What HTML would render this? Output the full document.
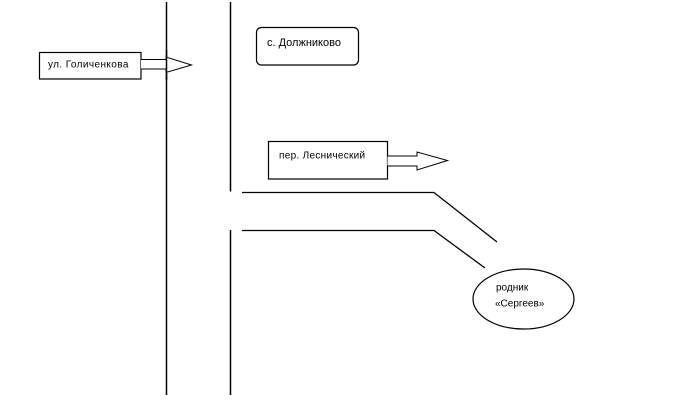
<!DOCTYPE html>
<html>
<head>
<meta charset="utf-8">
<style>
html,body{margin:0;padding:0;background:#fff;}
svg{display:block;}
text{font-family:"Liberation Sans","DejaVu Sans",sans-serif;fill:#000;}
</style>
</head>
<body>
<svg width="685" height="416" viewBox="0 0 685 416" xmlns="http://www.w3.org/2000/svg">
  <rect x="0" y="0" width="685" height="416" fill="#fff"/>
  <!-- vertical lines -->
  <line x1="166.5" y1="2" x2="166.5" y2="395" stroke="#000" stroke-width="1.5"/>
  <line x1="230.5" y1="2" x2="230.5" y2="191.5" stroke="#000" stroke-width="1.5"/>
  <line x1="230.5" y1="230" x2="230.5" y2="395" stroke="#000" stroke-width="1.5"/>

  <!-- road lines -->
  <polyline points="242,192.5 434,192.5 497,242" fill="none" stroke="#000" stroke-width="1.3"/>
  <polyline points="242,230.5 434,230.5 485,268" fill="none" stroke="#000" stroke-width="1.3"/>

  <!-- ул. Голиченкова box + arrow -->
  <rect x="39.5" y="52.5" width="101.5" height="26.5" fill="#fff" stroke="#000" stroke-width="1.2"/>
  <polyline points="141,59.5 166,59.5 166,57 191.5,65 166,72.5 166,69 141,69" fill="#fff" stroke="#000" stroke-width="1"/>
  <line x1="166.5" y1="50" x2="166.5" y2="80" stroke="#000" stroke-width="1.5"/>
  <text x="48" y="67.5" font-size="10" letter-spacing="0.4">ул. Голиченкова</text>

  <!-- с. Должниково rounded box -->
  <rect x="256.5" y="27.5" width="102" height="37.5" rx="5" ry="5" fill="#fff" stroke="#000" stroke-width="1.2"/>
  <text x="267" y="46" font-size="11">с. Должниково</text>

  <!-- пер. Леснический box + arrow -->
  <rect x="268.5" y="141.5" width="119" height="37.5" fill="#fff" stroke="#000" stroke-width="1.2"/>
  <polyline points="387.5,156 417,156 417,152 447.5,160.5 417,170 417,166 387.5,166" fill="#fff" stroke="#000" stroke-width="1"/>
  <text x="279" y="158.5" font-size="10" letter-spacing="0.3">пер. Леснический</text>

  <!-- родник ellipse -->
  <ellipse cx="523.5" cy="299" rx="50.5" ry="30" fill="#fff" stroke="#000" stroke-width="1.2"/>
  <text x="496" y="290.5" font-size="10">родник</text>
  <text x="495" y="306.5" font-size="10">«Сергеев»</text>
</svg>
</body>
</html>
